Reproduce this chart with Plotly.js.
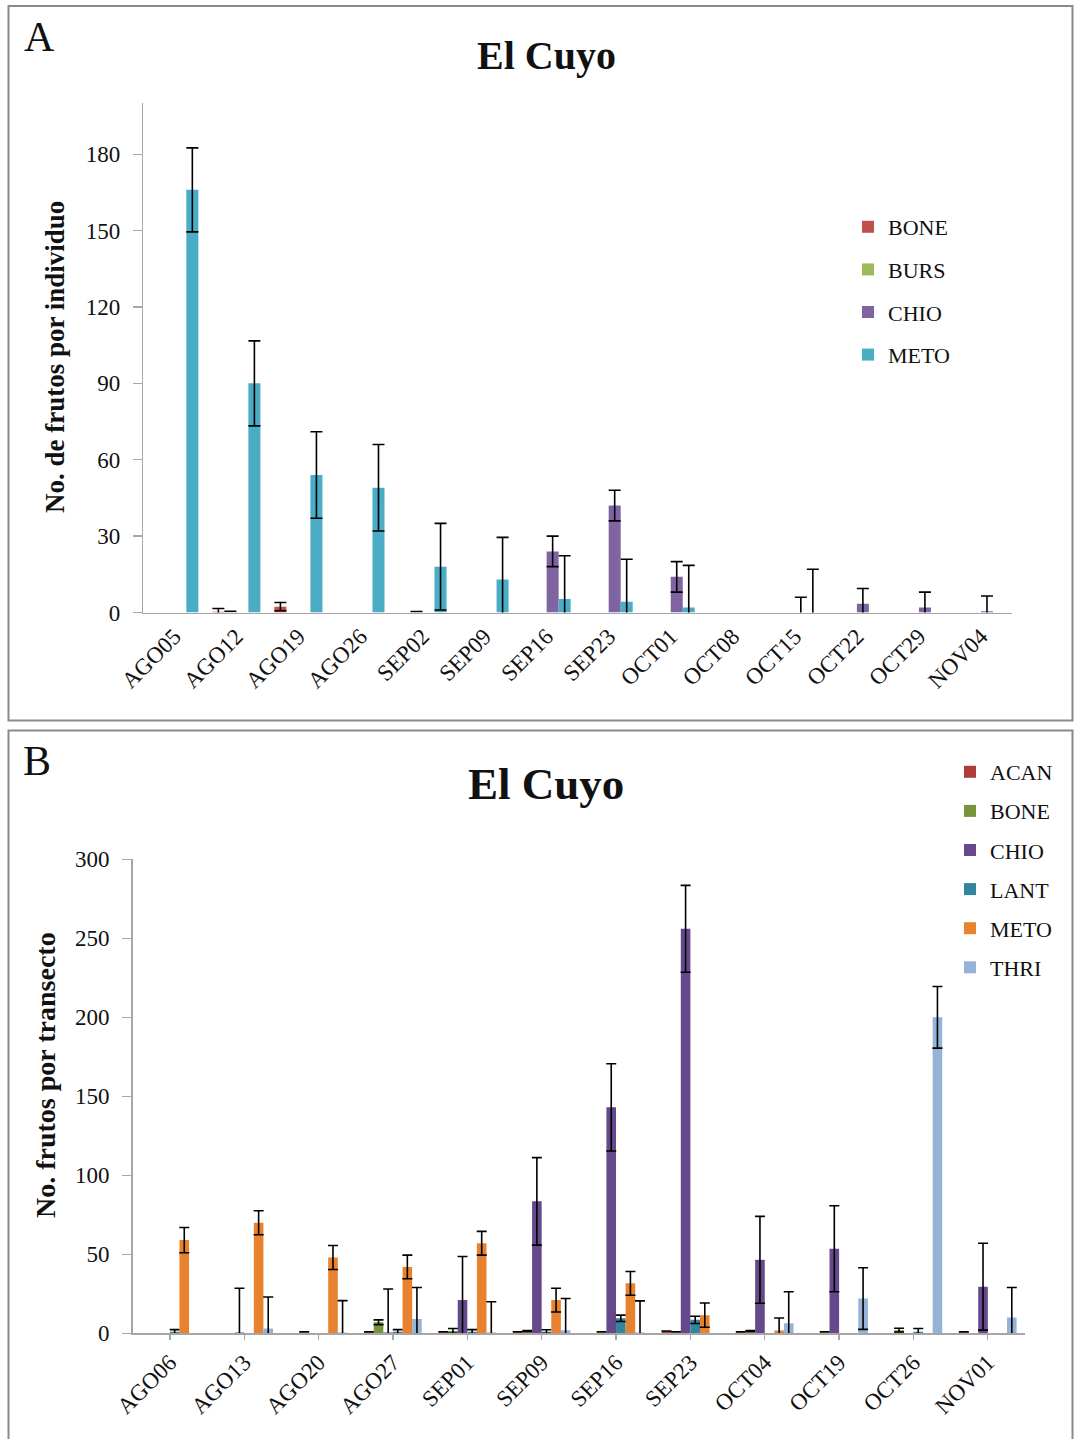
<!DOCTYPE html>
<html>
<head>
<meta charset="utf-8">
<script src="https://cdn.plot.ly/plotly-3.0.1.min.js"></script>
<style>html,body{margin:0;padding:0;background:#fff;}#chart{width:1074px;height:1439px;}</style>
</head>
<body>
<div id="chart"></div>
<script>
// ---------- Panel A data ----------
const datesA = ["AGO05","AGO12","AGO19","AGO26","SEP02","SEP09","SEP16","SEP23","OCT01","OCT08","OCT15","OCT22","OCT29","NOV04"];
const boneA    = [null, 0.3, 2.3, null, null, null, null, null, null, null, null, null, null, null];
const boneAErr = [0, 1.3, 1.6, 0, 0, 0, 0, 0, 0, 0, 0, 0, 0, 0];
const bursA    = [null, 0.5, null, null, 0.4, null, null, null, null, null, null, null, null, null];
const bursAErr = [0, 0, 0, 0, 0, 0, 0, 0, 0, 0, 0, 0, 0, 0];
const chioA    = [null, null, null, null, null, null, 24, 42, 14, null, 0, 3.4, 2, 0.5];
const chioAErr = [0, 0, 0, 0, 0, 0, 6, 6, 6, 0, 6, 6, 6, 6];
const metoA    = [166, 90, 54, 49, 18, 13, 5.3, 4.2, 2, null, 0, null, null, null];
const metoAErr = [16.5, 16.7, 17, 17, 17, 16.5, 17, 16.7, 16.5, 0, 17, 0, 0, 0];

// ---------- Panel B data ----------
const datesB = ["AGO06","AGO13","AGO20","AGO27","SEP01","SEP09","SEP16","SEP23","OCT04","OCT19","OCT26","NOV01"];
const acanB    = [null, null, null, 1, 1, 1, null, 1.5, 1, null, null, 1];
const acanBErr = [0, 0, 0, 0, 0, 0, 0, 0, 0, 0, 0, 0];
const boneB    = [null, null, 1, 7, 1.5, 1.5, 1, 1, 1.5, 1, 2, null];
const boneBErr = [0, 0, 0, 1.5, 1.5, 0.3, 0, 0, 0.3, 0, 1.2, 0];
const chioB    = [null, 0.5, null, 0.5, 21, 83.5, 143, 256, 46.5, 53.5, null, 29.5];
const chioBErr = [0, 28, 0, 27.5, 27.6, 27.7, 27.6, 27.5, 27.5, 27.2, 0, 27.5];
const lantB    = [1, null, null, 1, 1, 1, 9.5, 8.5, null, null, 1, null];
const lantBErr = [1.3, 0, 0, 1.3, 1.3, 1.2, 2, 2.3, 0, 0, 2, 0];
const metoB    = [59, 70, 48, 42, 57, 21, 31.6, 11.5, 1.7, null, null, null];
const metoBErr = [8, 7.6, 7.6, 7.5, 7.5, 7.5, 7.5, 7.7, 8, 0, 0, 0];
const thriB    = [null, 3, 0.5, 9, 0.5, 2, 0.5, null, 6.3, 22, 200, 10];
const thriBErr = [0, 20, 20.2, 20, 19.5, 20, 20, 0, 20, 19.5, 19.5, 19];

const W = 1074, H = 1439;
const px = v => v / W;
const py = v => 1 - v / H;
const FONT = "Liberation Serif, Times New Roman, serif";

function barTrace(name, x, y, err, color, xa, ya, legend, ew) {
  return {
    type: "bar", name: name, x: x, y: y,
    xaxis: xa, yaxis: ya, legend: legend, legendgroup: legend + name,
    marker: {color: color, line: {width: 0}},
    error_y: {type: "data", array: err, visible: true, color: "#000", thickness: 1.6, width: ew},
    hoverinfo: "x+y+name"
  };
}

const traces = [
  barTrace("BONE", datesA, boneA, boneAErr, "#C0504D", "x", "y", "legend", 6),
  barTrace("BURS", datesA, bursA, bursAErr, "#9BBB59", "x", "y", "legend", 6),
  barTrace("CHIO", datesA, chioA, chioAErr, "#8064A2", "x", "y", "legend", 6),
  barTrace("METO", datesA, metoA, metoAErr, "#4BACC6", "x", "y", "legend", 6),
  barTrace("ACAN", datesB, acanB, acanBErr, "#B03C3A", "x2", "y2", "legend2", 5),
  barTrace("BONE", datesB, boneB, boneBErr, "#77933C", "x2", "y2", "legend2", 5),
  barTrace("CHIO", datesB, chioB, chioBErr, "#65498A", "x2", "y2", "legend2", 5),
  barTrace("LANT", datesB, lantB, lantBErr, "#31859C", "x2", "y2", "legend2", 5),
  barTrace("METO", datesB, metoB, metoBErr, "#E8822E", "x2", "y2", "legend2", 5),
  barTrace("THRI", datesB, thriB, thriBErr, "#95B3D7", "x2", "y2", "legend2", 5)
];

const axisLine = "#a6a6a6";
const tickFont = {family: FONT, size: 23, color: "#111"};

const layout = {
  width: W, height: H,
  margin: {l: 0, r: 0, t: 0, b: 0, autoexpand: false},
  paper_bgcolor: "#fff", plot_bgcolor: "#fff",
  barmode: "group", bargap: 0.226, bargroupgap: 0,
  font: {family: FONT, color: "#111"},
  showlegend: true,
  xaxis: {
    domain: [px(143.3), px(1012)], anchor: "y", type: "category",
    showline: true, linecolor: axisLine, linewidth: 1.5,
    ticks: "", tickangle: -45, tickfont: tickFont, showgrid: false, zeroline: false,
    fixedrange: true
  },
  yaxis: {
    domain: [py(612.5), py(103.3)], anchor: "x", range: [0, 200],
    tickvals: [0, 30, 60, 90, 120, 150, 180],
    showline: true, linecolor: axisLine, linewidth: 1.5,
    ticks: "outside", ticklen: 9, tickcolor: axisLine, tickwidth: 1.3,
    tickfont: tickFont, ticklabelstandoff: 8, showgrid: false, zeroline: false
  },
  xaxis2: {
    domain: [px(132.7), px(1025)], anchor: "y2", type: "category",
    showline: true, linecolor: axisLine, linewidth: 1.5,
    ticks: "outside", ticklen: 5, tickcolor: axisLine, tickwidth: 1.3,
    tickangle: -45, tickfont: tickFont, showgrid: false, zeroline: false
  },
  yaxis2: {
    domain: [py(1333.3), py(859.3)], anchor: "x2", range: [0, 300],
    tickvals: [0, 50, 100, 150, 200, 250, 300],
    showline: true, linecolor: axisLine, linewidth: 1.5,
    ticks: "outside", ticklen: 9, tickcolor: axisLine, tickwidth: 1.3,
    tickfont: tickFont, ticklabelstandoff: 8, showgrid: false, zeroline: false
  },
  legend: {
    x: px(848), y: py(206), xanchor: "left", yanchor: "top",
    traceorder: "grouped", tracegroupgap: 11,
    font: {family: FONT, size: 22, color: "#111"}, bgcolor: "rgba(0,0,0,0)", itemwidth: 30
  },
  legend2: {
    x: px(950), y: py(751), xanchor: "left", yanchor: "top",
    traceorder: "grouped", tracegroupgap: 7.5,
    font: {family: FONT, size: 22, color: "#111"}, bgcolor: "rgba(0,0,0,0)", itemwidth: 30
  },
  shapes: [
    {type: "rect", xref: "paper", yref: "paper", x0: px(8.5), x1: px(1072.5), y0: py(720.5), y1: py(6),
     line: {color: "#8a8a8a", width: 2}, fillcolor: "rgba(0,0,0,0)", layer: "below"},
    {type: "rect", xref: "paper", yref: "paper", x0: px(8.5), x1: px(1072.5), y0: py(1445), y1: py(730.5),
     line: {color: "#8a8a8a", width: 2}, fillcolor: "rgba(0,0,0,0)", layer: "below"}
  ],
  annotations: [
    {text: "<b>El Cuyo</b>", xref: "paper", yref: "paper", x: px(546), y: py(56), xanchor: "center", yanchor: "middle",
     showarrow: false, font: {family: FONT, size: 40, color: "#111"}},
    {text: "<b>El Cuyo</b>", xref: "paper", yref: "paper", x: px(546), y: py(784), xanchor: "center", yanchor: "middle",
     showarrow: false, font: {family: FONT, size: 45, color: "#111"}},
    {text: "A", xref: "paper", yref: "paper", x: px(39), y: py(37), xanchor: "center", yanchor: "middle",
     showarrow: false, font: {family: FONT, size: 42, color: "#111"}},
    {text: "B", xref: "paper", yref: "paper", x: px(37), y: py(761), xanchor: "center", yanchor: "middle",
     showarrow: false, font: {family: FONT, size: 42, color: "#111"}},
    {text: "<b>No. de frutos por individuo</b>", xref: "paper", yref: "paper", x: px(55), y: py(357),
     xanchor: "center", yanchor: "middle", textangle: -90, showarrow: false,
     font: {family: FONT, size: 27, color: "#111"}},
    {text: "<b>No. frutos por transecto</b>", xref: "paper", yref: "paper", x: px(45), y: py(1075),
     xanchor: "center", yanchor: "middle", textangle: -90, showarrow: false,
     font: {family: FONT, size: 28, color: "#111"}}
  ]
};

Plotly.newPlot("chart", traces, layout, {displayModeBar: false, staticPlot: true});
</script>
</body>
</html>
